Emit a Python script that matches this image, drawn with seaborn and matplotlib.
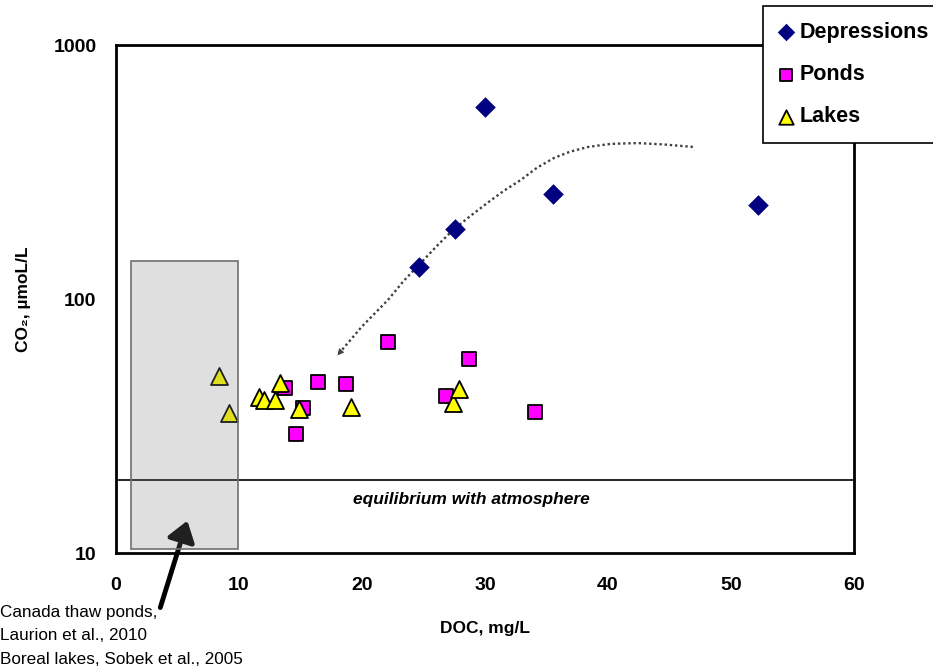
import numpy as np
import pandas as pd
import matplotlib
matplotlib.use("Agg")
import matplotlib.pyplot as plt
import seaborn as sns
from matplotlib.patches import Rectangle

# data
dep_doc = [30.0, 35.5, 27.6, 24.6, 52.2]
dep_co2 = [570, 259, 189, 134, 234]

pond_doc = [22.1, 28.7, 16.4, 18.7, 13.7, 15.2, 26.8, 34.1, 14.6]
pond_co2 = [67.7, 58, 47.1, 46.3, 44.6, 37.2, 41.5, 35.9, 29.4]

lake_doc = [8.4, 9.2, 11.6, 12.0, 12.9, 13.3, 14.9, 19.1, 27.4, 27.9]
lake_co2 = [49.7, 35.6, 41.1, 40.0, 40.0, 46.7, 36.9, 37.6, 39.0, 44.2]

# literature range box (Canada thaw ponds / boreal lakes)
box_doc = (1.2, 9.9)
box_co2 = (10.4, 141)

equilibrium_co2 = 19.4

# hand-drawn trend arrow
curve_doc = [46.9, 44.5, 42.4, 40.2, 38.4, 36.9, 35.6, 34.2, 32.9, 31.5, 30.2, 28.8, 27.4, 26.1, 24.8, 23.4, 22.1, 20.0, 18.0]
curve_co2 = [397, 406, 411, 408, 397, 380, 359, 328, 294, 266, 239, 212, 187, 162, 139, 118, 99, 78, 60]

df = pd.concat([
    pd.DataFrame({"DOC": dep_doc, "CO2": dep_co2, "type": "Depressions"}),
    pd.DataFrame({"DOC": pond_doc, "CO2": pond_co2, "type": "Ponds"}),
    pd.DataFrame({"DOC": lake_doc, "CO2": lake_co2, "type": "Lakes"}),
])

sns.set_style("white")
plt.rcParams["font.family"] = ["Liberation Sans", "DejaVu Sans"]
plt.rcParams["text.color"] = "black"
plt.rcParams["axes.labelcolor"] = "black"
plt.rcParams["xtick.color"] = "black"
plt.rcParams["ytick.color"] = "black"

fig = plt.figure(figsize=(9.33, 6.72), dpi=100)
ax = fig.add_axes([116 / 933, 1 - 553 / 672, (854 - 116) / 933, (553 - 45) / 672])

styles = {
    "Depressions": dict(marker="D", color="#000080", s=110, edgecolor="#000080", linewidth=0),
    "Ponds": dict(marker="s", color="#FF00FF", s=110, edgecolor="black", linewidth=1.3),
    "Lakes": dict(marker="^", color="#FFFF00", s=150, edgecolor="black", linewidth=1.3),
}
for name, st in styles.items():
    sns.scatterplot(data=df[df["type"] == name], x="DOC", y="CO2", ax=ax,
                    label=name, zorder=3, legend=False, **st)

ax.set_yscale("log")
ax.set_xlim(0, 60)
ax.set_ylim(10, 1000)
ax.set_xticks(np.arange(0, 61, 10))
ax.set_yticks([10, 100, 1000])
ax.set_yticklabels(["10", "100", "1000"])
ax.yaxis.set_minor_locator(matplotlib.ticker.NullLocator())

# grey box drawn over the lakes that fall inside it
ax.add_patch(Rectangle((box_doc[0], box_co2[0]), box_doc[1] - box_doc[0], box_co2[1] - box_co2[0],
                       facecolor=(0.5, 0.5, 0.5, 0.25), edgecolor="#707070", linewidth=1.2, zorder=4))

ax.axhline(equilibrium_co2, color="black", linewidth=1.2, zorder=2)
ax.text(28.9, 16.2, "equilibrium with atmosphere", ha="center", va="center",
        fontsize=12.5, fontweight="bold", fontstyle="italic")

ax.plot(curve_doc, curve_co2, color="#404040", linewidth=1.7, linestyle=(0, (1, 1.2)), zorder=2)
ax.annotate("", xy=(curve_doc[-1], curve_co2[-1]), xytext=(curve_doc[-2], curve_co2[-2]),
            arrowprops=dict(arrowstyle="-|>", color="#404040", lw=0, mutation_scale=12,
                            shrinkA=0, shrinkB=0))

# thick black arrow pointing at the box
ax.annotate("", xy=(5.8, 13.4), xytext=(3.6, 6.1), xycoords="data", annotation_clip=False,
            arrowprops=dict(arrowstyle="-|>,head_length=0.5,head_width=0.35", color="black", lw=3.5,
                            mutation_scale=24, shrinkA=0, shrinkB=0))

for s in ax.spines.values():
    s.set_linewidth(2)
    s.set_color("black")

ax.tick_params(axis="both", direction="in", length=6, width=1.5, labelsize=14)
ax.tick_params(axis="x", pad=17)
ax.tick_params(axis="y", pad=14)
for lab in ax.get_xticklabels() + ax.get_yticklabels():
    lab.set_fontweight("bold")

ax.set_xlabel("DOC, mg/L", fontsize=12.5, fontweight="bold", labelpad=20)
ax.set_ylabel("CO₂, µmoL/L", fontsize=12.5, fontweight="bold", labelpad=16)

handles, labels = ax.get_legend_handles_labels()
leg = fig.legend(handles, labels, loc="upper left", bbox_to_anchor=(763 / 933, 1 - 6 / 672),
                 frameon=True, fancybox=False, edgecolor="black", framealpha=1,
                 prop=dict(weight="bold", size=15.5), markerscale=0.85,
                 handlelength=0.6, handletextpad=0.35, labelspacing=0.98,
                 borderpad=0.75, borderaxespad=0)
leg.get_frame().set_linewidth(1.2)

notes = ["Canada thaw ponds,", "Laurion et al., 2010", "Boreal lakes, Sobek et al., 2005"]
for i, t in enumerate(notes):
    fig.text(0.0, 1 - (612 + i * 23.5) / 672, t, ha="left", va="center", fontsize=12.3)

fig.savefig("out.png", dpi=100)
